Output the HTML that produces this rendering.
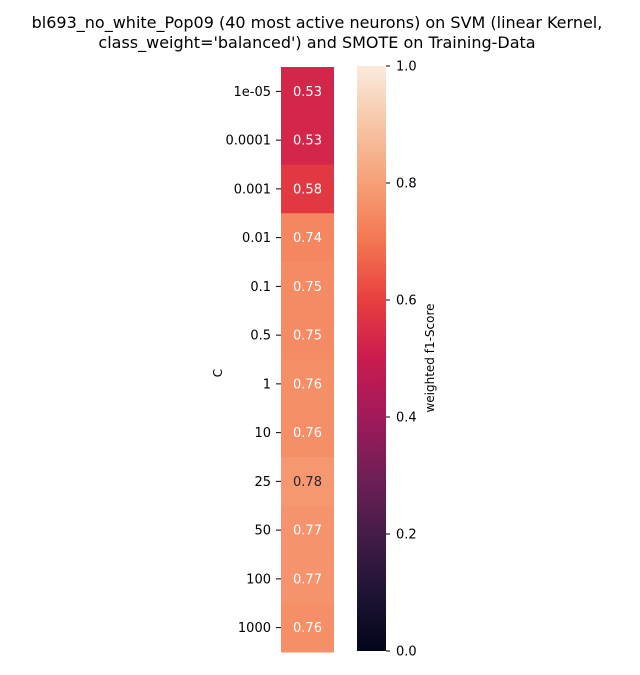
<!DOCTYPE html>
<html><head><meta charset="utf-8"><style>
body{margin:0;background:#fff;font-family:"Liberation Sans","DejaVu Sans",sans-serif;}
svg text{font-family:"DejaVu Sans","Liberation Sans",sans-serif;}
</style></head><body>
<svg id="chart" width="640" height="670">
<defs>
<linearGradient id="cbgrad" x1="0" y1="1" x2="0" y2="0">
<stop offset="0" stop-color="#03051a"/><stop offset="0.1" stop-color="#1f1435"/>
<stop offset="0.2" stop-color="#451c47"/><stop offset="0.3" stop-color="#701f57"/>
<stop offset="0.4" stop-color="#a11a5b"/><stop offset="0.5" stop-color="#cb1b4f"/>
<stop offset="0.6" stop-color="#e83f3f"/><stop offset="0.7" stop-color="#f37651"/>
<stop offset="0.8" stop-color="#f6a077"/><stop offset="0.9" stop-color="#f7c5a6"/>
<stop offset="1" stop-color="#faebdd"/>
</linearGradient></defs>
<text x="317" y="28" text-anchor="middle" font-size="16">bl693_no_white_Pop09 (40 most active neurons) on SVM (linear Kernel,</text>
<text x="317" y="48" text-anchor="middle" font-size="16">class_weight='balanced') and SMOTE on Training-Data</text>
<text transform="translate(222,373) rotate(-90)" text-anchor="middle" font-size="12">C</text>
<g id="cells"></g>
<rect x="357" y="66" width="29" height="585" fill="url(#cbgrad)"/>
<g id="cbticks"></g>
<text transform="translate(434,358) rotate(-90)" text-anchor="middle" font-size="12">weighted f1-Score</text>
</svg>
<script>
const categories=["1e-05","0.0001","0.001","0.01","0.1","0.5","1","10","25","50","100","1000"];
const values=[0.53,0.53,0.58,0.74,0.75,0.75,0.76,0.76,0.78,0.77,0.77,0.76];
const cbTicks=[0,0.2,0.4,0.6,0.8,1.0];
const stops=["#03051a","#1f1435","#451c47","#701f57","#a11a5b","#cb1b4f","#e83f3f","#f37651","#f6a077","#f7c5a6","#faebdd"];
function hex(h){return [1,3,5].map(i=>parseInt(h.substr(i,2),16));}
function cmap(v){v=Math.max(0,Math.min(1,v));const p=v*10,i=Math.min(9,Math.floor(p)),t=p-i;const a=hex(stops[i]),b=hex(stops[i+1]);return `rgb(${a.map((c,k)=>Math.round(c+(b[k]-c)*t)).join(',')})`;}
const NS="http://www.w3.org/2000/svg";
const yTop=67,yBot=652,x0=281,x1=334,rh=(yBot-yTop)/categories.length;
const yRow=i=>yTop+i*rh;
const yCb=v=>651-v*585;
const g=document.getElementById('cells');
function mk(t,attrs,parent){const e=document.createElementNS(NS,t);for(const k in attrs)e.setAttribute(k,attrs[k]);parent.appendChild(e);return e;}
categories.forEach((c,i)=>{
 const r=mk('rect',{x:x0,y:yRow(i),width:x1-x0,height:rh+0.5,fill:cmap(values[i])},g);
 
 
 const t=mk('text',{x:(x0+x1)/2,y:yRow(i)+rh/2+4.5,'text-anchor':'middle','font-size':13,fill:values[i]>=0.78?'#262626':'#ffffff'},g);
 t.textContent=values[i].toFixed(2);
 
 
 const tk=mk('line',{x1:x0-5,x2:x0,y1:yRow(i)+rh/2,y2:yRow(i)+rh/2,stroke:'#000','stroke-width':1},g);
 
 
 const l=mk('text',{x:x0-10,y:yRow(i)+rh/2+4.5,'text-anchor':'end','font-size':13},g);
 l.textContent=c;
 
 
});
const cg=document.getElementById('cbticks');
cbTicks.forEach(v=>{
 const tk=mk('line',{x1:386,x2:390,y1:yCb(v),y2:yCb(v),stroke:'#000','stroke-width':1},cg);
 
 
 const l=mk('text',{x:396,y:yCb(v)+4.5,'font-size':13},cg);
 l.textContent=v.toFixed(1);
 
 
});
</script>
</body></html>
